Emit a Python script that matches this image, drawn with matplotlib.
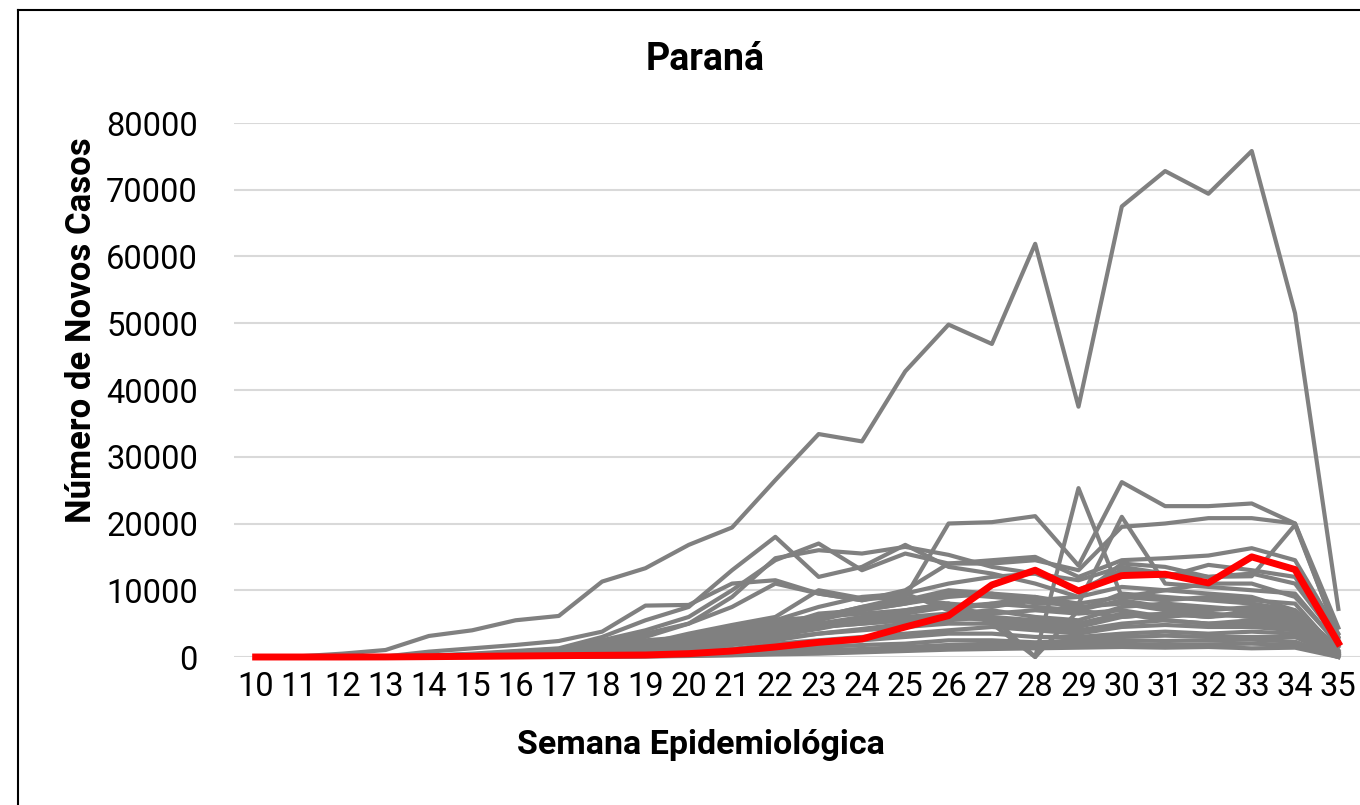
import matplotlib
matplotlib.use("Agg")
import matplotlib.pyplot as plt
from matplotlib.lines import Line2D

weeks = list(range(10, 36))

# Paraná (highlighted)
parana = [0, 0, 0, 10, 50, 100, 150, 200, 250, 300, 500, 900, 1500, 2200, 2700, 4500,
          6200, 10800, 13000, 9900, 12200, 12400, 11100, 15000, 13100, 2100]

# Other states (gray)
s_sp = [0, 100, 500, 1050, 3150, 4000, 5500, 6150, 11300, 13300, 16800, 19400, 26500, 33400,
        32300, 42800, 49800, 46900, 61900, 37500, 67500, 72800, 69400, 75800, 51500, 7200]
s_a = [0, 0, 10, 50, 200, 400, 700, 1000, 1500, 2500, 3000, 4500, 5000, 6000, 7500, 9000,
       20000, 20200, 21100, 13700, 26200, 22600, 22600, 23000, 20000, 4400]
s_c = [0, 0, 10, 30, 150, 300, 600, 900, 1800, 3000, 5000, 7500, 11000, 9500, 8500, 10000,
       14000, 14000, 14500, 13000, 19500, 20000, 20800, 20800, 20000, 3000]
s_f = [0, 0, 20, 60, 200, 500, 900, 1300, 3000, 5500, 7500, 13000, 18000, 12000, 13500, 16800,
       13500, 12500, 11000, 9000, 14000, 13500, 12000, 12500, 11000, 2500]
s_g = [0, 0, 10, 40, 150, 400, 800, 1200, 2500, 4000, 6000, 10000, 14500, 17000, 13000, 15500,
       14000, 14500, 15000, 12000, 14500, 14800, 15200, 16300, 14500, 3500]
s_h = [0, 0, 10, 30, 100, 300, 700, 1100, 2000, 3500, 5000, 9000, 14800, 16000, 15500, 16500,
       15300, 13500, 12500, 10000, 13000, 12000, 13800, 13000, 12000, 2000]
s_d = [0, 0, 0, 20, 80, 200, 400, 700, 1200, 2000, 3000, 4000, 5000, 6000, 6500, 7000,
       8000, 6000, 0, 25300, 9000, 10000, 9500, 9000, 7000, 1500]
s_e = [0, 0, 0, 10, 60, 150, 300, 500, 1000, 1500, 2500, 3500, 4500, 5500, 7000, 8000,
       9000, 9500, 8000, 8000, 21000, 11000, 10500, 10000, 9500, 1800]
s_i = [0, 0, 20, 80, 800, 1300, 1800, 2400, 3800, 7700, 7800, 11000, 11500, 9500, 8500, 9500,
       7000, 8000, 7500, 7000, 9500, 9000, 8500, 8000, 7000, 1000]
s_j = [0, 0, 0, 10, 50, 100, 300, 600, 1000, 2000, 3500, 4800, 6000, 10000, 8800, 8800,
       8000, 7500, 8500, 9000, 10500, 10000, 11000, 11000, 9000, 2000]
s_k = [0, 0, 0, 0, 30, 80, 200, 400, 800, 1500, 2500, 4000, 5500, 7500, 9000, 9500,
       11000, 12000, 12500, 11500, 13500, 12500, 12000, 12100, 19800, 3000]
s_l = [0, 0, 0, 10, 40, 100, 300, 500, 900, 1600, 2800, 3800, 4500, 5000, 6000, 7000,
       8000, 5000, 0, 7000, 6000, 6500, 6000, 6500, 6000, 800]
s_m = [0, 0, 0, 0, 20, 60, 150, 300, 600, 1200, 2000, 3000, 4000, 5000, 5500, 6000,
       6500, 7000, 6000, 5500, 7500, 8000, 7500, 7000, 6000, 500]
s_n = [0, 0, 0, 0, 20, 50, 100, 200, 400, 800, 1500, 2500, 3500, 4500, 5000, 5500,
       6000, 5500, 5000, 4500, 6000, 6500, 6000, 7000, 6500, 300]
s_o = [0, 0, 0, 0, 10, 30, 80, 150, 300, 600, 1000, 1800, 2500, 3500, 4000, 4500,
       5000, 5000, 4500, 4000, 5000, 5500, 5000, 5000, 4500, 200]
s_p = [0, 0, 0, 0, 10, 20, 50, 100, 200, 400, 800, 1200, 2000, 2500, 3000, 3500,
       4000, 4500, 4000, 3500, 4500, 4800, 4500, 4500, 4000, 200]
s_q = [0, 0, 0, 0, 5, 20, 40, 80, 150, 300, 600, 1000, 1500, 2000, 2500, 3000,
       3500, 3500, 3000, 3000, 3500, 3800, 3500, 3800, 3500, 100]
s_r = [0, 0, 0, 0, 5, 10, 30, 60, 100, 200, 400, 700, 1000, 1500, 1800, 2000,
       2500, 2500, 2200, 2500, 3000, 3200, 3000, 3000, 3000, 100]
s_s = [0, 0, 0, 0, 0, 5, 20, 40, 80, 150, 300, 500, 800, 1000, 1200, 1500,
       1800, 2000, 2000, 2200, 2500, 2400, 2500, 2600, 2300, 0]
s_t = [0, 0, 0, 0, 0, 5, 10, 20, 50, 100, 200, 300, 500, 700, 900, 1200,
       1500, 1500, 1600, 1800, 2000, 1800, 1900, 2000, 1800, 0]
s_u = [0, 0, 0, 0, 0, 0, 10, 20, 40, 80, 150, 250, 400, 500, 700, 900,
       1100, 1200, 1300, 1400, 1500, 1400, 1500, 1300, 1400, 0]
s_v = [0, 0, 0, 0, 10, 40, 100, 200, 500, 1000, 1800, 3000, 4500, 6500, 7000, 8000,
       9500, 9000, 8500, 7500, 8000, 7000, 6500, 6000, 5500, 600]
s_w = [0, 0, 0, 0, 10, 30, 80, 200, 400, 900, 1500, 2200, 3200, 4200, 5500, 6500,
       7500, 8000, 9000, 7000, 8500, 7500, 7000, 7500, 6500, 400]
s_y = [0, 0, 0, 0, 20, 80, 200, 400, 900, 1800, 3000, 4500, 5500, 6000, 7500, 8500,
       10000, 9500, 9000, 8000, 9000, 8500, 9000, 8500, 8000, 700]
s_z = [0, 0, 0, 0, 10, 50, 150, 300, 700, 1300, 2000, 3000, 4000, 4500, 5000, 5500,
       6000, 6500, 7000, 6500, 7000, 6000, 6500, 6000, 5000, 300]
s_aa = [0, 0, 0, 0, 10, 40, 100, 250, 600, 1000, 1500, 2000, 2800, 3500, 4200, 5000,
        5500, 6000, 5500, 5000, 6500, 5500, 5000, 5500, 5000, 400]

others = [s_sp, s_a, s_c, s_f, s_g, s_h, s_d, s_e, s_i, s_j, s_k, s_l, s_m, s_n, s_o,
          s_p, s_q, s_r, s_s, s_t, s_u, s_v, s_w, s_y, s_z, s_aa]

yticks = [0, 10000, 20000, 30000, 40000, 50000, 60000, 70000, 80000]

FONT = "Roboto"
W, H = 1360, 805
fig = plt.figure(figsize=(W / 100, H / 100), dpi=100)
ax = fig.add_axes([234 / W, 1 - 657 / H, (1360 - 234) / W, (657 - 123) / H])

for s in others:
    ax.plot(weeks, s, color="#808080", lw=3.0, solid_joinstyle="round", clip_on=False, zorder=2)
ax.plot(weeks, parana, color="#ff0000", lw=5.0, solid_joinstyle="round", clip_on=False, zorder=3)

ax.set_xlim(9.5, 35.5)
ax.set_ylim(0, 80000)
ax.set_yticks(yticks)
ax.set_yticklabels([str(v) for v in yticks], fontfamily=FONT, fontsize=23.5)
ax.set_xticks(weeks)
ax.set_xticklabels([str(w) for w in weeks], fontfamily=FONT, fontsize=23.5)
ax.tick_params(axis="both", length=0, colors="black")
ax.tick_params(axis="y", pad=26)
ax.tick_params(axis="x", pad=10)
ax.grid(axis="y", color="#d9d9d9", lw=1.5, zorder=0)
ax.set_axisbelow(True)
for sp in ax.spines.values():
    sp.set_visible(False)

fig.text(705 / W, 1 - 60 / H, "Paraná", ha="center", va="center",
         fontfamily=FONT, fontweight="bold", fontsize=27)
fig.text(82 / W, 1 - 330 / H, "Número de Novos Casos", ha="center", va="center",
         rotation=90, fontfamily=FONT, fontweight="bold", fontsize=25)
fig.text(701 / W, 1 - 745 / H, "Semana Epidemiológica", ha="center", va="center",
         fontfamily=FONT, fontweight="bold", fontsize=24.5)

# outer frame
fig.add_artist(Line2D([18 / W, 18 / W], [0, 1 - 10 / H], color="black", lw=1.5, transform=fig.transFigure))
fig.add_artist(Line2D([18 / W, 1], [1 - 10 / H, 1 - 10 / H], color="black", lw=1.5, transform=fig.transFigure))

fig.savefig("out.png", dpi=100)
